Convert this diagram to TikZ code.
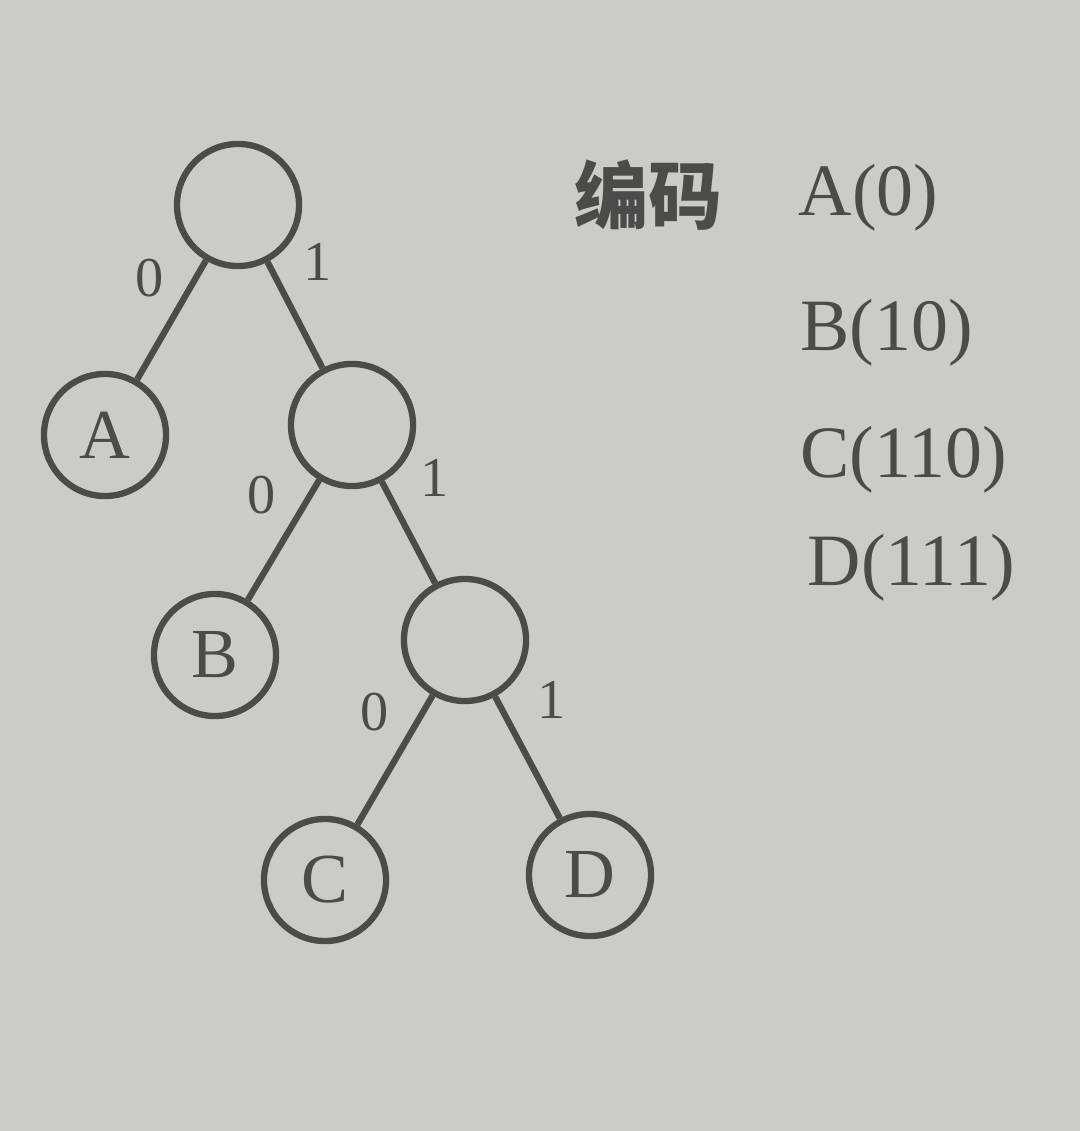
\documentclass[tikz,border=0pt]{standalone}
\usepackage{fontspec}
\setmainfont{Liberation Serif}
\newfontfamily\cjk{Noto Sans CJK SC}
\definecolor{bg}{RGB}{204,204,199}
\definecolor{ink}{RGB}{75,75,72}
\begin{document}
\begin{tikzpicture}[x=0.01cm,y=-0.01cm,
  tnode/.style={circle,draw=ink,line width=1.8pt,minimum size=1.22cm,inner sep=0pt,text=ink,font=\fontsize{20}{20}\selectfont},
  edge/.style={draw=ink,line width=1.8pt},
  bit/.style={text=ink,inner sep=0pt,font=\fontsize{16}{16}\selectfont},
  code/.style={text=ink,inner sep=0pt,font=\fontsize{21}{21}\selectfont}]
\fill[bg] (0,0) rectangle (1080,1131);
\useasboundingbox (0,0) rectangle (1080,1131);
\node[tnode] (r) at (238,205) {};
\node[tnode] (A) at (105,435) {A};
\node[tnode] (n2) at (352,425) {};
\node[tnode] (B) at (215,655) {B};
\node[tnode] (n3) at (465,640) {};
\node[tnode] (C) at (325,880) {C};
\node[tnode] (D) at (590,875) {D};
\draw[edge] (r) -- (A);
\draw[edge] (r) -- (n2);
\draw[edge] (n2) -- (B);
\draw[edge] (n2) -- (n3);
\draw[edge] (n3) -- (C);
\draw[edge] (n3) -- (D);
\node[bit] (l1) at (150,278) {0};
\node[bit] (l2) at (318,262) {1};
\node[bit] (l3) at (262,495) {0};
\node[bit] (l4) at (435,478) {1};
\node[bit] (l5) at (375,712) {0};
\node[bit] (l6) at (552,700) {1};
\node[text=ink,inner sep=0pt,font=\cjk\fontsize{21}{21}\selectfont\bfseries] (t0) at (648,195) {编码};
\node[code,anchor=west] (t1) at (798,198) {A(0)};
\node[code,anchor=west] (t2) at (800,333) {B(10)};
\node[code,anchor=west] (t3) at (800,460) {C(110)};
\node[code,anchor=west] (t4) at (807,568) {D(111)};
\end{tikzpicture}
\end{document}
